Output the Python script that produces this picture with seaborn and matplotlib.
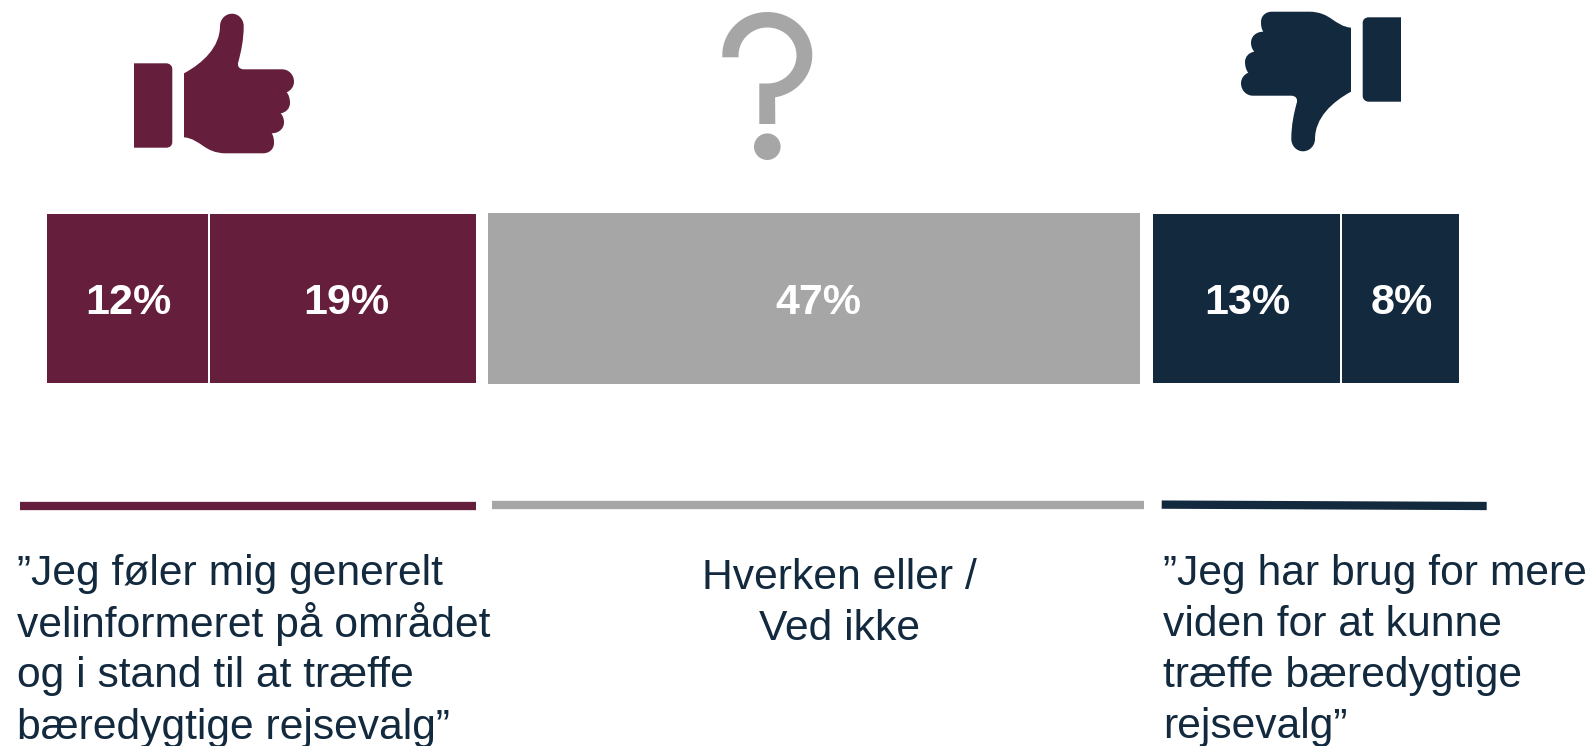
import numpy as np
import pandas as pd
import seaborn as sns
from matplotlib import pyplot as plt
from matplotlib.path import Path
from matplotlib.patches import PathPatch, Circle
from matplotlib.transforms import Affine2D

# data (labels are the rounded shares)
segments = ["Enig meget", "Enig", "Hverken", "Uenig", "Uenig meget"]
shares = [11.58, 19.15, 46.9, 13.45, 8.45]
labels = ["12%", "19%", "47%", "13%", "8%"]
groups = ["agree", "agree", "neutral", "disagree", "disagree"]

colors = {"agree": "#651f3c", "neutral": "#a6a6a6", "disagree": "#12293e"}
text_color = "#12293e"

left_text = ["”Jeg føler mig generelt", "velinformeret på området",
             "og i stand til at træffe", "bæredygtige rejsevalg”"]
middle_text = ["Hverken eller /", "Ved ikke"]
right_text = ["”Jeg har brug for mere", "viden for at kunne",
              "træffe bæredygtige", "rejsevalg”"]

W, H = 1590, 746
PX_PER_POINT = 13.9
X0, BAR_MID, BAR_H = 46.6, 298.4, 168.7
SPLIT_GAP, GROUP_GAP = 0.15, 0.9

sns.set_theme(style="white")
plt.rcParams["font.family"] = ["Liberation Sans", "DejaVu Sans"]

fig = plt.figure(figsize=(W / 100, H / 100), dpi=100)
ax = fig.add_axes([0, 0, 1, 1])

df = pd.DataFrame({"segment": segments, "share": shares, "label": labels, "group": groups})
df["row"] = "svar"
gaps = [GROUP_GAP if a != b else SPLIT_GAP for a, b in zip(groups[:-1], groups[1:])]
df["left"] = np.cumsum([0] + shares[:-1]) + np.cumsum([0] + gaps)

for _, seg in df.iterrows():
    sns.barplot(data=df[df.segment == seg.segment], x="share", y="row", orient="y",
                color=colors[seg.group], saturation=1, left=seg.left, ax=ax,
                width=1.014 if seg.group == "neutral" else 1.0, linewidth=0, errorbar=None)

ax.set_xlim(-X0 / PX_PER_POINT, (W - X0) / PX_PER_POINT)
ax.set_ylim((H - BAR_MID) / BAR_H, -BAR_MID / BAR_H)
ax.axis("off")

# percent labels sit slightly right of the bar centres
label_nudge = [1, 4, 4, 1.5, 1]
for (_, seg), dx in zip(df.iterrows(), label_nudge):
    ax.text(seg.left + seg.share / 2 + dx / PX_PER_POINT, 0.003, seg.label, color="white",
            fontsize=31, fontweight="bold", ha="center", va="center_baseline")

# overlay in pixel coordinates for the icons, rules and captions
ov = fig.add_axes([0, 0, 1, 1], facecolor="none")
ov.set_xlim(0, W)
ov.set_ylim(H, 0)
ov.axis("off")

M, L, C = Path.MOVETO, Path.LINETO, Path.CURVE4
hand = [
    (M, (184, 73.3)),
    (C, (203, 63)), (C, (220, 47)), (C, (220, 26)),
    (C, (220, 19.3)), (C, (225.4, 13.7)), (C, (232, 13.7)),
    (C, (238.5, 13.7)), (C, (243.7, 19.3)), (C, (243.7, 26)),
    (C, (243.7, 40)), (C, (241, 52)), (C, (238.3, 62)),
    (C, (237, 66)), (C, (239, 69.3)), (C, (244, 69.3)),
    (L, (282, 69.3)),
    (C, (289, 69.3)), (C, (294, 75)), (C, (294, 81.7)),
    (C, (294, 86.5)), (C, (291, 90.5)), (C, (286.7, 92.3)),
    (C, (289, 95)), (C, (290, 99)), (C, (290, 103)),
    (C, (290, 108.5)), (C, (286, 112.5)), (C, (280.7, 113.3)),
    (C, (283, 116)), (C, (284, 119)), (C, (284, 122.3)),
    (C, (284, 128.5)), (C, (279, 133.3)), (C, (271.7, 133.3)),
    (C, (273.5, 136)), (C, (274, 139)), (C, (274, 143)),
    (C, (274, 149)), (C, (269.5, 153.3)), (C, (263, 153.3)),
    (L, (226, 153.3)),
    (C, (204, 153.3)), (C, (201, 139)), (C, (184, 137.3)),
    (L, (184, 73.3)),
]
cuff = [
    (M, (134, 63.3)), (L, (166, 63.3)),
    (C, (170, 63.3)), (C, (172.3, 66)), (C, (172.3, 69)),
    (L, (172.3, 142)),
    (C, (172.3, 145.5)), (C, (170, 147.7)), (C, (166, 147.7)),
    (L, (134, 147.7)), (L, (134, 63.3)),
]


def thumb_patches(color, transform):
    for shape in (hand, cuff):
        path = Path([p for _, p in shape], [c for c, _ in shape])
        ov.add_patch(PathPatch(path, facecolor=color, edgecolor="none",
                               transform=transform + ov.transData))


thumb_patches(colors["agree"], Affine2D())
# thumbs down is the same icon turned half a circle
thumb_patches(colors["disagree"], Affine2D().scale(-1, -1).translate(1535, 165))

# question mark
t_out = np.radians(np.linspace(180, -80, 60))
t_in = np.radians(np.linspace(-90, 180, 60))
outer = np.c_[767.3 + 45 * np.cos(t_out), 55 - 43 * np.sin(t_out)]
outer[0, 1] = 57.3
inner = np.c_[767.5 + 29 * np.cos(t_in), 55.5 - 28 * np.sin(t_in)]
inner[-1, 1] = 57.3
stem = np.array([[775.3, 124], [759.3, 124], [759.3, 83.5]])
ov.fill(*np.vstack([outer, stem, inner]).T, color=colors["neutral"], lw=0)
ov.add_patch(Circle((767.3, 146.7), 13.3, facecolor=colors["neutral"], edgecolor="none"))

# rules above the captions
rule_lw = 8.3 * 72 / 100
ov.plot([20.4, 476], [505.8, 505.8], color=colors["agree"], lw=rule_lw, solid_capstyle="butt")
ov.plot([492, 1143.6], [504.8, 504.8], color=colors["neutral"], lw=rule_lw, solid_capstyle="butt")
ov.plot([1161.7, 1486.7], [504.6, 506], color=colors["disagree"], lw=rule_lw, solid_capstyle="butt")

# captions
for i, line in enumerate(left_text):
    ov.text(17, 585.5 + 51 * i, line, color=text_color, fontsize=30.7, ha="left", va="baseline")
for i, line in enumerate(middle_text):
    ov.text(839.5, 589 + 51 * i, line, color=text_color, fontsize=30.7, ha="center", va="baseline")
for i, line in enumerate(right_text):
    ov.text(1162.7, 585 + 51 * i, line, color=text_color, fontsize=30.7, ha="left", va="baseline")

fig.savefig("out.png", dpi=100)
